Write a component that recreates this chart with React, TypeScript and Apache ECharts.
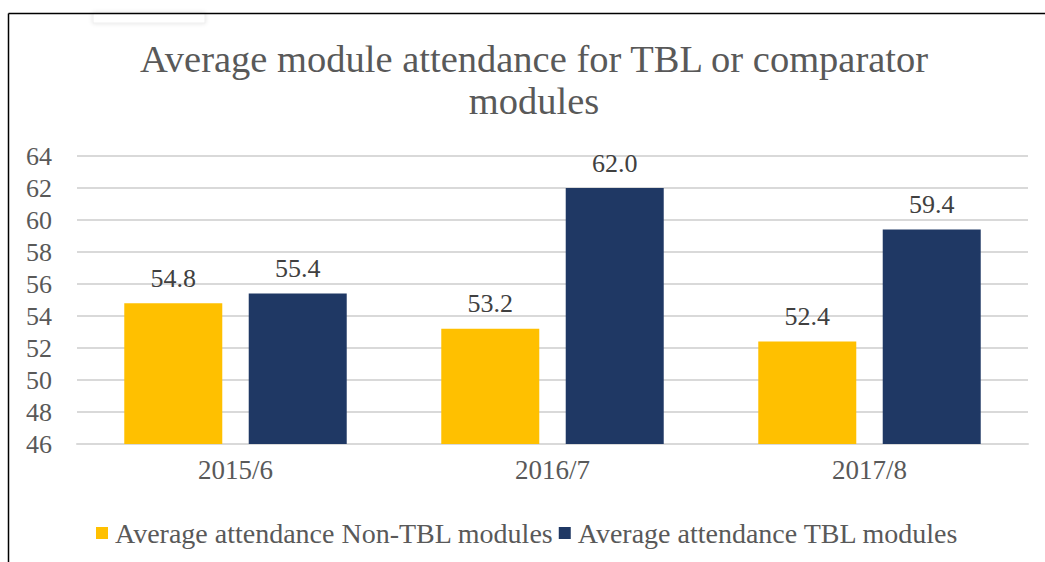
import React, { useEffect, useRef } from "react";
import * as echarts from "echarts";

const categories = ["2015/6", "2016/7", "2017/8"];
const nonTbl = [54.8, 53.2, 52.4];
const tbl = [55.4, 62.0, 59.4];
const seriesNames = ["Average attendance Non-TBL modules", "Average attendance TBL modules"];
const titleText = "Average module attendance for TBL or comparator\nmodules";

const FONT = "Liberation Serif";

export default function App() {
  const ref = useRef<HTMLDivElement>(null);
  useEffect(() => {
    if (!ref.current) return;
    const chart = echarts.init(ref.current, null, { renderer: "svg" });
    const labelOpt = {
      show: true,
      position: "top",
      distance: 12,
      formatter: (p: any) => Number(p.value).toFixed(1),
      fontFamily: FONT,
      fontSize: 26,
      color: "#404040",
    };
    chart.setOption({
      animation: false,
      backgroundColor: "#ffffff",
      title: {
        text: titleText,
        left: 529,
        textAlign: "center",
        top: 33,
        textStyle: {
          fontFamily: FONT,
          fontSize: 38.5,
          fontWeight: "normal",
          color: "#595959",
          lineHeight: 42,
        },
      },
      graphic: [
        {
          type: "rect",
          shape: { x: 93, y: 13, width: 112, height: 10 },
          style: { fill: "#ffffff", stroke: "#eeeeee", lineWidth: 1, shadowBlur: 4, shadowColor: "rgba(0,0,0,0.12)" },
          z: 5,
        },
        {
          type: "line",
          shape: { x1: 8.5, y1: 13.5, x2: 1045, y2: 13.5 },
          style: { stroke: "#000000", lineWidth: 1.5 },
          z: 10,
        },
        {
          type: "line",
          shape: { x1: 8.5, y1: 13.5, x2: 8.5, y2: 562 },
          style: { stroke: "#000000", lineWidth: 1.5 },
          z: 10,
        },
      ],
      legend: {
        data: seriesNames,
        left: 91,
        top: 514,
        itemWidth: 12,
        itemHeight: 12,
        itemGap: 5,
        icon: "rect",
        textStyle: { fontFamily: FONT, fontSize: 28, color: "#595959", padding: [0, 0, 0, 2] },
      },
      grid: { left: 77, right: 17, top: 156, bottom: 118, containLabel: false },
      xAxis: {
        type: "category",
        data: categories,
        axisLine: { show: true, lineStyle: { color: "#d9d9d9", width: 2 } },
        axisTick: { show: false },
        axisLabel: { fontFamily: FONT, fontSize: 27, color: "#595959", margin: 12 },
      },
      yAxis: {
        type: "value",
        min: 46,
        max: 64,
        interval: 2,
        axisLine: { show: false },
        axisTick: { show: false },
        axisLabel: { fontFamily: FONT, fontSize: 26, color: "#595959", margin: 25 },
        splitLine: { lineStyle: { color: "#d9d9d9", width: 2 } },
      },
      series: [
        {
          name: seriesNames[0],
          type: "bar",
          data: nonTbl,
          barWidth: 98,
          barGap: "27%",
          itemStyle: { color: "#FFC000" },
          label: labelOpt,
        },
        {
          name: seriesNames[1],
          type: "bar",
          data: tbl,
          barWidth: 98,
          itemStyle: { color: "#1F3864" },
          label: labelOpt,
        },
      ],
    });
    return () => chart.dispose();
  }, []);
  return (
    <div
      ref={ref}
      style={{ position: "fixed", left: 0, top: 0, width: 1045, height: 562 }}
    />
  );
}
